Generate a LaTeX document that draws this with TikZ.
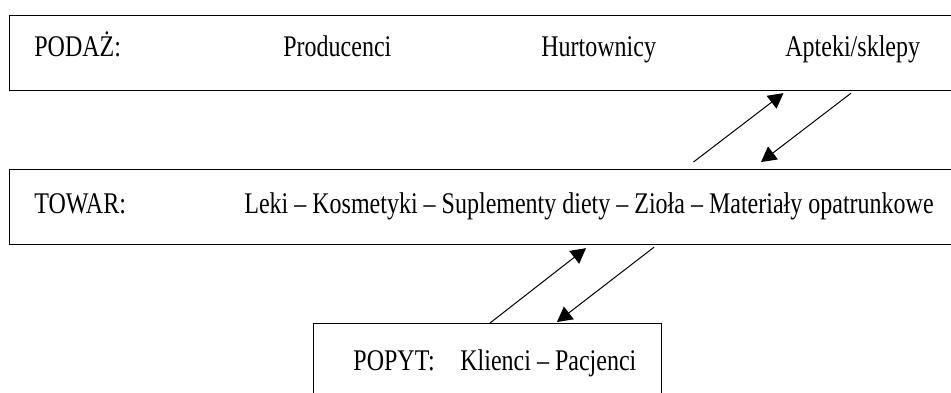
\documentclass[tikz,border=0pt]{standalone}
\usepackage{fontspec}
\setmainfont{Liberation Serif}
\usetikzlibrary{arrows.meta}
\newcommand\tall[1]{\scalebox{1}[1.25]{#1}}
\begin{document}
\begin{tikzpicture}[x=0.5pt,y=-0.5pt,font=\fontsize{12}{14}\selectfont,
		box/.style={draw,line width=0.6pt,anchor=north west,inner sep=0pt,minimum height=37.75pt},
		lbl/.style={anchor=base west,inner sep=0pt},
		arr/.style={-{Triangle[length=7.5pt,width=8pt]},line width=0.5pt}]
		\useasboundingbox(0,0)rectangle(951,392);
		\clip(0,0)rectangle(951,392);
		% ramki
		\node[box,minimum width=490pt](podaz)at(9,14.5){};
		\node[box,minimum width=490pt](towar)at(9,168.5){};
		\node[box,minimum width=174pt](popyt)at(313,323){};
		% napisy
		\node[lbl](podazlbl)at(34,56){\tall{PODAŻ:}};
		\node[lbl](prod)at(283,56){\tall{Producenci}};
		\node[lbl](hurt)at(541,56){\tall{Hurtownicy}};
		\node[lbl](apt)at(785,56){\tall{Apteki/sklepy}};
		\node[lbl](towarlbl)at(34,213){\tall{TOWAR:}};
		\node[lbl](towary)at(244,213){\tall{Leki – Kosmetyki – Suplementy diety – Zioła – Materiały opatrunkowe}};
		\node[lbl](popytlbl)at(353,370){\tall{POPYT:}};
		\node[lbl](klienci)at(460,370){\tall{Klienci – Pacjenci}};
		% strzalki
		\coordinate(a)at(685,0);\coordinate(b)at(786,0);
		\coordinate(c)at(853.6,0);\coordinate(d)at(752.6,0);
		\coordinate(e)at(490,0);\coordinate(f)at(589.8,0);
		\coordinate(g)at(656.6,0);\coordinate(h)at(555.7,0);
		\draw[arr,shorten <=5.3pt,shorten >=1.6pt](towar.north-|a)--(podaz.south-|b);
		\draw[arr,shorten <=1.6pt,shorten >=5.3pt](podaz.south-|c)--(towar.north-|d);
		\draw[arr,shorten >=2.4pt](popyt.north-|e)--(towar.south-|f);
		\draw[arr,shorten <=1.6pt,shorten >=0.8pt](towar.south-|g)--(popyt.north-|h);
	\end{tikzpicture}
\end{document}
